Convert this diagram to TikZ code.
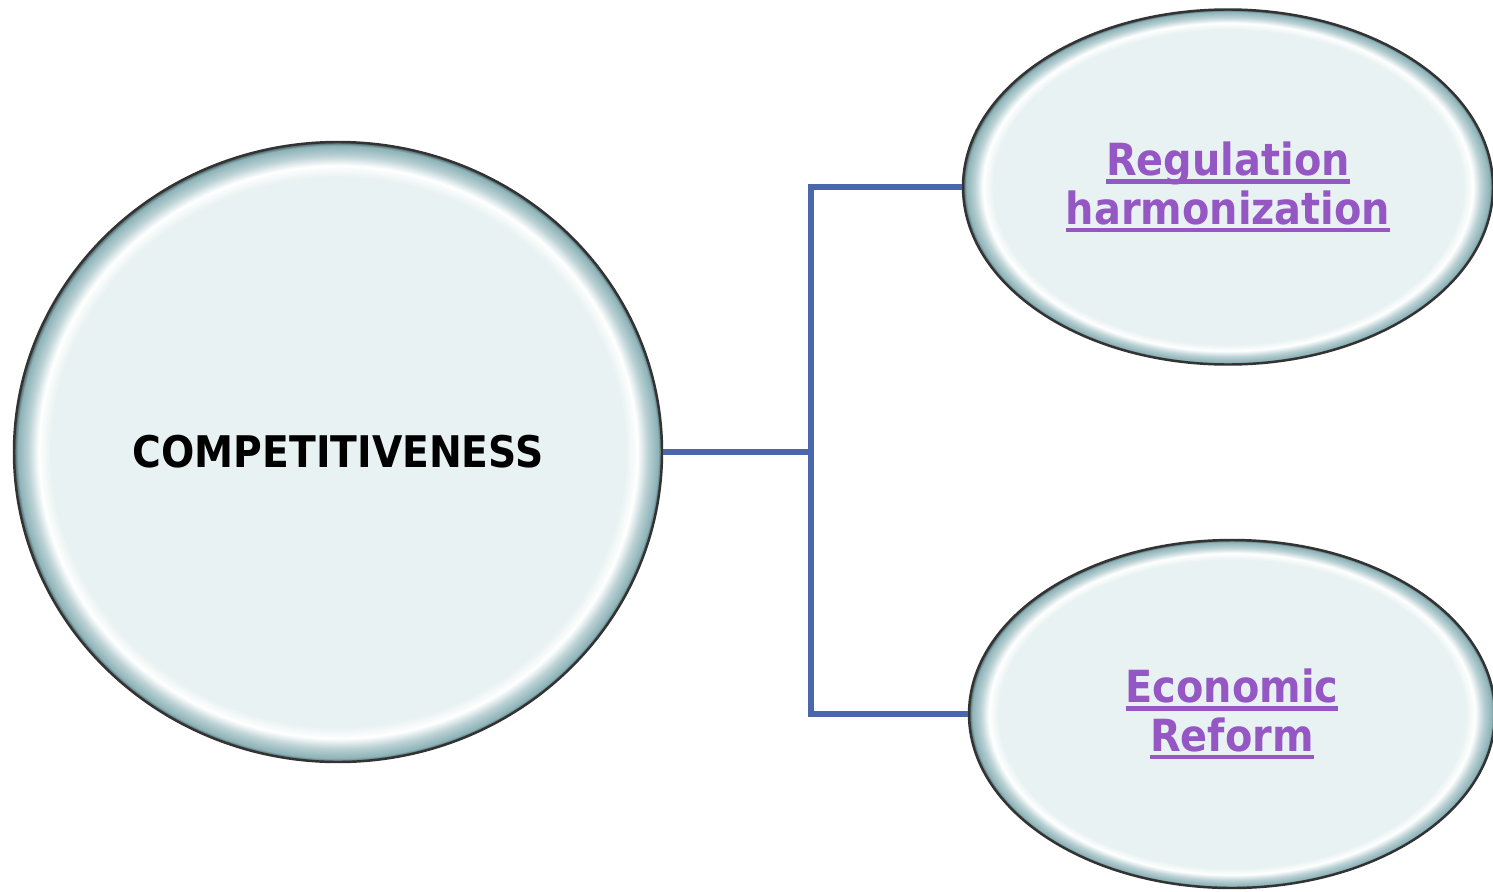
\documentclass[tikz,border=0pt]{standalone}
\usepackage{fontspec}
\setsansfont{DejaVu Sans Condensed}
\usetikzlibrary{positioning,shapes.geometric}
\definecolor{bubblein}{HTML}{E9F2F2}
\definecolor{bubblerim}{HTML}{8DB3B8}
\definecolor{linkblue}{HTML}{4A66AC}
\definecolor{linkpurple}{HTML}{9457C3}
\pgfdeclareradialshading{bubbleshade}{\pgfpoint{0bp}{0bp}}{%
  color(0bp)=(bubblein); color(22.2bp)=(bubblein); color(23.1bp)=(white);
  color(23.9bp)=(bubblerim!60); color(24.7bp)=(bubblerim);
  color(25bp)=(bubblerim!50!black); color(50bp)=(bubblerim!50!black)}
\newsavebox{\linkbox}
\newcommand{\linkline}[1]{\sbox{\linkbox}{#1}\rlap{\rule[-2.4pt]{\wd\linkbox}{1.2pt}}\usebox{\linkbox}}
\tikzset{
  bubble/.style={ellipse, draw=black!80, line width=0.7pt, shading=bubbleshade, inner sep=0pt},
  option/.style={text=linkpurple, align=center, font=\sffamily\bfseries\fontsize{12.6}{13.9}\selectfont},
  link/.style={linkblue, line width=1.5pt}
}

\begin{document}
\begin{tikzpicture}
    \useasboundingbox (0,0) rectangle (14.93,8.91);
    % Bubbles
    \node[bubble, minimum width=6.48cm, minimum height=6.20cm,
          font=\sffamily\bfseries\fontsize{12.4}{14}\selectfont] (comp) at (3.38,4.39) {COMPETITIVENESS};
    \node[bubble, option, minimum width=5.30cm, minimum height=3.55cm] (reg) at (12.28,7.04)
         {\linkline{Regulation}\\\linkline{harmonization}};
    \node[bubble, option, minimum width=5.26cm, minimum height=3.48cm] (eco) at (12.32,1.77)
         {\linkline{Economic}\\\linkline{Reform}};
    % Connectors
    \coordinate (hub) at (8.11,4.39);
    \draw[link] (comp.east) -- (hub);
    \draw[link] (hub) |- (reg.west);
    \draw[link] (hub) |- (eco.west);
\end{tikzpicture}
\end{document}
